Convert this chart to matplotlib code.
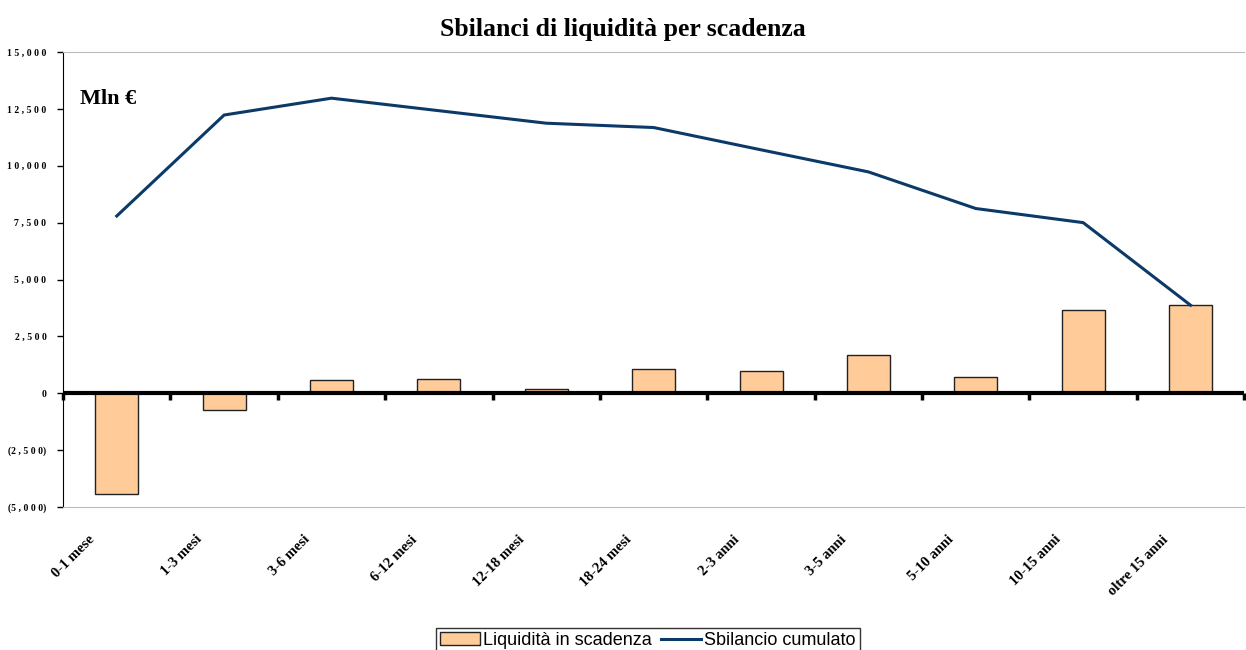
import numpy as np
import matplotlib.pyplot as plt
import matplotlib.transforms as mtransforms
from matplotlib.ticker import FuncFormatter

# dati (Mln €)
scadenze = ['0-1 mese', '1-3 mesi', '3-6 mesi', '6-12 mesi', '12-18 mesi', '18-24 mesi',
            '2-3 anni', '3-5 anni', '5-10 anni', '10-15 anni', 'oltre 15 anni']
liquidita = [-4420, -730, 570, 620, 200, 1050, 1000, 1700, 700, 3650, 3870]
cumulato = [7790, 12230, 12970, 12420, 11870, 11680, 10700, 9730, 8120, 7500, 3870]

serif = 'Liberation Serif'
bar_col = '#FFCC99'
line_col = '#0B3A68'

fig = plt.figure(figsize=(12.46, 6.5), dpi=100)
ax = fig.add_axes([0.0506, 0.22, 0.948, 0.70])

x = np.arange(len(scadenze))
barre = ax.bar(x, liquidita, width=0.4, color=bar_col, edgecolor='#222222', linewidth=1,
               label='Liquidità in scadenza', zorder=2)
linea, = ax.plot(x, cumulato, color=line_col, linewidth=2.2, label='Sbilancio cumulato', zorder=3)

# linea dello zero con tacche tra le categorie
ax.axhline(0, color='black', linewidth=3, zorder=4)
bordi = np.arange(len(scadenze) + 1) - 0.5
ax.plot(bordi, np.zeros(len(bordi)), linestyle='none', marker=3, markersize=5,
        markeredgewidth=2.5, color='black', zorder=4, clip_on=False)

ax.set_xlim(-0.5, len(scadenze) - 0.5)
ax.set_ylim(-5000, 15000)
ax.set_yticks(np.arange(-5000, 15001, 2500))

def fmt(v, pos):
    if v < 0:
        return '(' + ' '.join(f'{-v:,.0f}') + ')'
    return ' '.join(f'{v:,.0f}')
ax.yaxis.set_major_formatter(FuncFormatter(fmt))
ax.tick_params(axis='y', direction='out', length=4, width=1, labelsize=7, pad=8)
for lab in ax.get_yticklabels():
    lab.set_fontfamily(serif)
    lab.set_fontweight('bold')

ax.set_xticks(x)
ax.set_xticklabels(scadenze, rotation=45, ha='right', va='center',
                   rotation_mode='anchor', fontfamily=serif, fontweight='bold', fontsize=10.5)
ax.tick_params(axis='x', length=0, pad=22)
offset = mtransforms.ScaledTranslation(-24 / 100, 0, fig.dpi_scale_trans)
for lab in ax.get_xticklabels():
    lab.set_transform(lab.get_transform() + offset)

ax.spines['right'].set_visible(False)
ax.spines['top'].set_color('#BBBBBB')
ax.spines['bottom'].set_color('#BBBBBB')
ax.spines['left'].set_color('black')

ax.text(0.014, 0.885, 'Mln €', transform=ax.transAxes, fontfamily=serif,
        fontweight='bold', fontsize=16)

fig.suptitle('Sbilanci di liquidità per scadenza', fontfamily=serif, fontweight='bold',
             fontsize=18.5, y=0.972)

fig.legend([barre, linea], ['Liquidità in scadenza', 'Sbilancio cumulato'],
           loc='lower center', bbox_to_anchor=(0.52, -0.004), ncol=2, frameon=True,
           fancybox=False, edgecolor='black', prop={'family': 'Liberation Sans', 'size': 13},
           handlelength=2.2, handletextpad=0.2, columnspacing=0.5, borderpad=0.2,
           borderaxespad=0)

fig.savefig('out.png', dpi=100, facecolor='white')
